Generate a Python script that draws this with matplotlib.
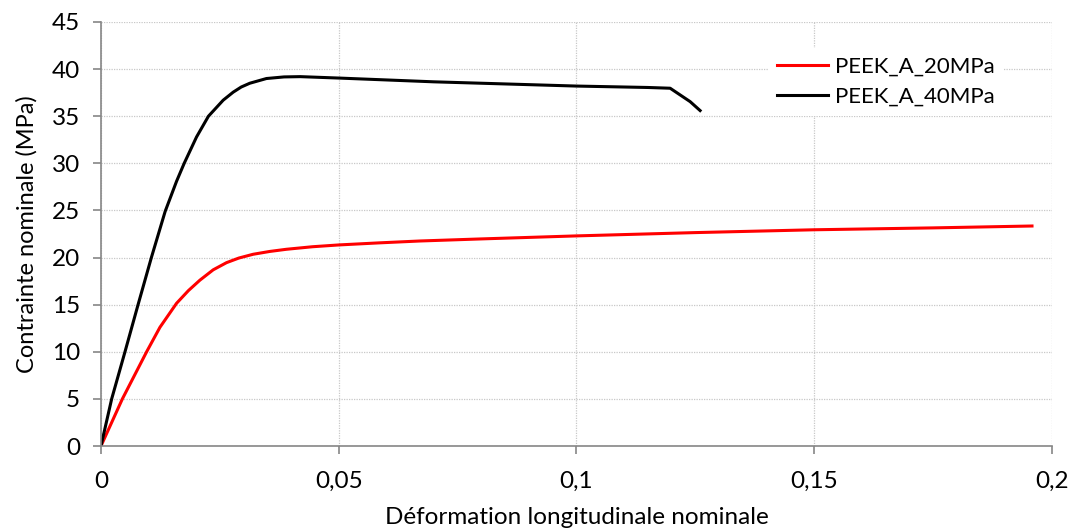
import matplotlib
matplotlib.use('Agg')
import matplotlib.pyplot as plt

# nominal strain / stress
strain_20 = [0, 0.0045, 0.0096, 0.0124, 0.0159, 0.0184, 0.0208, 0.0236, 0.0264,
             0.029, 0.032, 0.0355, 0.039, 0.0445, 0.05, 0.0585, 0.0671, 0.08, 0.1,
             0.125, 0.15, 0.175, 0.1958]
stress_20 = [0, 5.0, 10.0, 12.6, 15.15, 16.5, 17.6, 18.7, 19.46,
             19.95, 20.35, 20.65, 20.88, 21.15, 21.34, 21.56, 21.76, 21.98, 22.3,
             22.65, 22.95, 23.15, 23.35]

strain_40 = [0, 0.00225, 0.00505, 0.0078, 0.0106, 0.0135, 0.0159, 0.0175, 0.0201, 0.0226,
             0.0257, 0.0278, 0.0295, 0.0313, 0.0348, 0.0385, 0.0419, 0.05, 0.06, 0.07,
             0.09, 0.1, 0.115, 0.1197, 0.1218, 0.1239, 0.126]
stress_40 = [0, 5.0, 10.0, 15.0, 20.0, 24.9, 28.1, 30.0, 32.8, 35.0,
             36.7, 37.55, 38.1, 38.5, 39.0, 39.17, 39.2, 39.05, 38.85, 38.65,
             38.35, 38.2, 38.05, 37.97, 37.26, 36.55, 35.6]

x_ticks = [0, 0.05, 0.1, 0.15, 0.2]
x_tick_labels = ['0', '0,05', '0,1', '0,15', '0,2']
y_ticks = list(range(0, 50, 5))

plt.rcParams['font.family'] = ['Lato', 'DejaVu Sans']

fig = plt.figure(figsize=(10.73, 5.31), dpi=100)
ax = fig.add_axes([0.0941, 0.160, 0.8863, 0.7986])

ax.plot(strain_20, stress_20, color='#ff0000', lw=2.2, label='PEEK_A_20MPa',
        solid_joinstyle='round')
ax.plot(strain_40, stress_40, color='black', lw=2.2, label='PEEK_A_40MPa',
        solid_joinstyle='round')

ax.set_xlim(0, 0.2)
ax.set_ylim(0, 45)
ax.set_xticks(x_ticks)
ax.set_xticklabels(x_tick_labels)
ax.set_yticks(y_ticks)
ax.grid(True, color='#c8c8c8', linestyle=(0, (1, 1)), linewidth=0.9)
ax.set_axisbelow(True)

for s in ['top', 'right']:
    ax.spines[s].set_visible(False)
for s in ['left', 'bottom']:
    ax.spines[s].set_color('#868686')
    ax.spines[s].set_linewidth(1.2)
ax.tick_params(axis='both', direction='out', length=6, width=1.2, color='#868686',
               labelsize=17.5, labelcolor='black')
ax.tick_params(axis='y', pad=9)
ax.tick_params(axis='x', pad=12)

ax.set_xlabel('Déformation longitudinale nominale', fontsize=17.5, labelpad=11)
ax.set_ylabel('Contrainte nominale (MPa)', fontsize=17, labelpad=10)

leg = ax.legend(loc='upper left', bbox_to_anchor=(0.69, 0.965), frameon=True,
                fontsize=16, handlelength=2.3, handletextpad=0.3, labelspacing=0.45,
                borderpad=0.4, fancybox=False)
leg.get_frame().set_edgecolor('none')
leg.get_frame().set_facecolor('white')
leg.get_frame().set_alpha(1)

fig.savefig('out.png', dpi=100)
